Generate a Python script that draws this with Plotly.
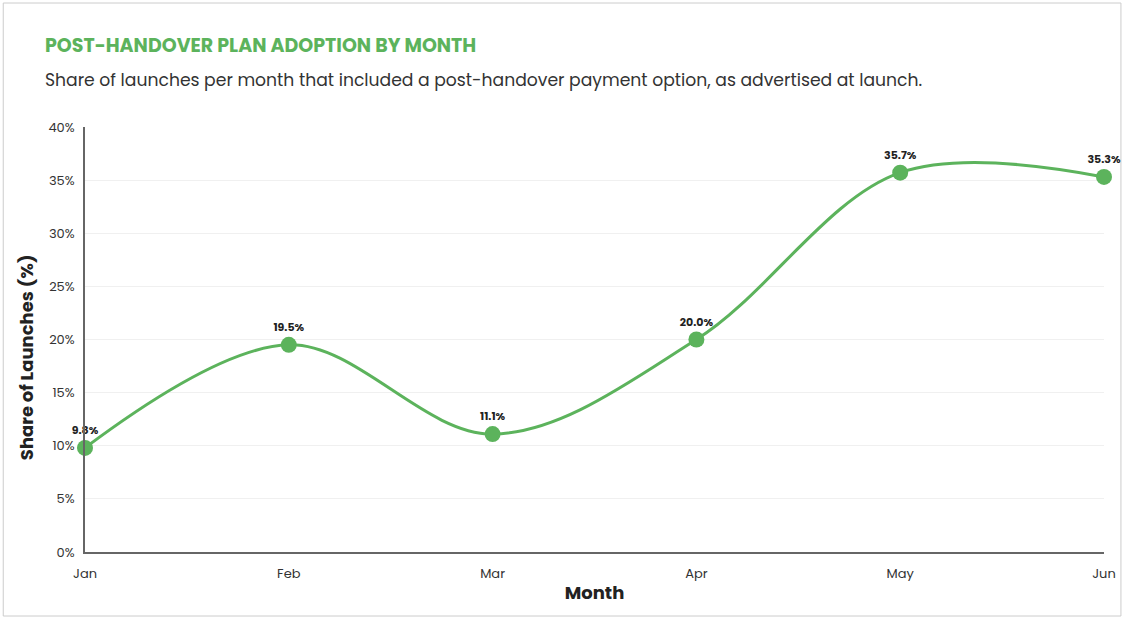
import plotly.graph_objects as go

# data
months = ["Jan", "Feb", "Mar", "Apr", "May", "Jun"]
share_pct = [9.8, 19.5, 11.1, 20.0, 35.7, 35.3]
value_labels = ["9.8%", "19.5%", "11.1%", "20.0%", "35.7%", "35.3%"]
y_ticks = [0, 5, 10, 15, 20, 25, 30, 35, 40]
y_tick_labels = ["0%", "5%", "10%", "15%", "20%", "25%", "30%", "35%", "40%"]

green = "#5cb35c"
font_family = "Poppins, Inter, 'Open Sans', sans-serif"

W, H = 1128, 619
ml, mr, mt, mb = 85, 21, 127, 67
pw, ph = W - ml - mr, H - mt - mb


def px_x(x):
    return (x - ml) / pw


def px_y(y):
    return (H - mb - y) / ph


fig = go.Figure()
fig.add_trace(go.Scatter(
    x=months,
    y=share_pct,
    mode="lines+markers+text",
    line=dict(color=green, width=3, shape="spline", smoothing=1),
    marker=dict(color=green, size=16),
    text=value_labels,
    textposition="top center",
    textfont=dict(family=font_family, size=11, color="#222222", weight="bold"),
    cliponaxis=False,
    hoverinfo="x+y",
))

fig.update_layout(
    width=W, height=H,
    margin=dict(l=ml, r=mr, t=mt, b=mb),
    paper_bgcolor="white",
    plot_bgcolor="white",
    showlegend=False,
    font=dict(family=font_family, color="#333333"),
    xaxis=dict(
        showgrid=False,
        showline=True, linecolor="#666666", linewidth=1.5,
        ticks="", tickfont=dict(size=13, color="#333333"),
        ticklabelstandoff=9,
        range=[0, 5],
        title=dict(text="Month", font=dict(size=18, color="#222222", weight="bold"), standoff=4),
    ),
    yaxis=dict(
        range=[0, 40],
        tickmode="array",
        tickvals=y_ticks,
        ticktext=y_tick_labels,
        showgrid=True, gridcolor="#f0f0f0", gridwidth=1,
        showline=True, linecolor="#666666", linewidth=1.5,
        zeroline=False,
        tickfont=dict(size=13, color="#333333"),
        ticklabelstandoff=6,
    ),
    shapes=[dict(
        type="rect", xref="paper", yref="paper",
        x0=px_x(3), x1=px_x(1124), y0=px_y(616), y1=px_y(3),
        line=dict(color="#cccccc", width=1), fillcolor="rgba(0,0,0,0)", layer="below",
    )],
    annotations=[
        dict(text="POST-HANDOVER PLAN ADOPTION BY MONTH", xref="paper", yref="paper",
             x=px_x(43), y=px_y(46), xanchor="left", yanchor="middle", showarrow=False,
             font=dict(size=19, color=green, weight="bold")),
        dict(text="Share of launches per month that included a post-handover payment option, as advertised at launch.",
             xref="paper", yref="paper",
             x=px_x(43), y=px_y(80), xanchor="left", yanchor="middle", showarrow=False,
             font=dict(size=17.2, color="#333333")),
        # y-axis title, sits a little below the plot's middle in the reference
        dict(text="Share of Launches (%)", xref="paper", yref="paper",
             x=px_x(26), y=px_y(357), xanchor="center", yanchor="middle", showarrow=False,
             textangle=-90, font=dict(size=18, color="#222222", weight="bold")),
    ],
)

fig.write_html("out.html", config={"displayModeBar": False},
               post_script="document.body.style.margin='0';")
